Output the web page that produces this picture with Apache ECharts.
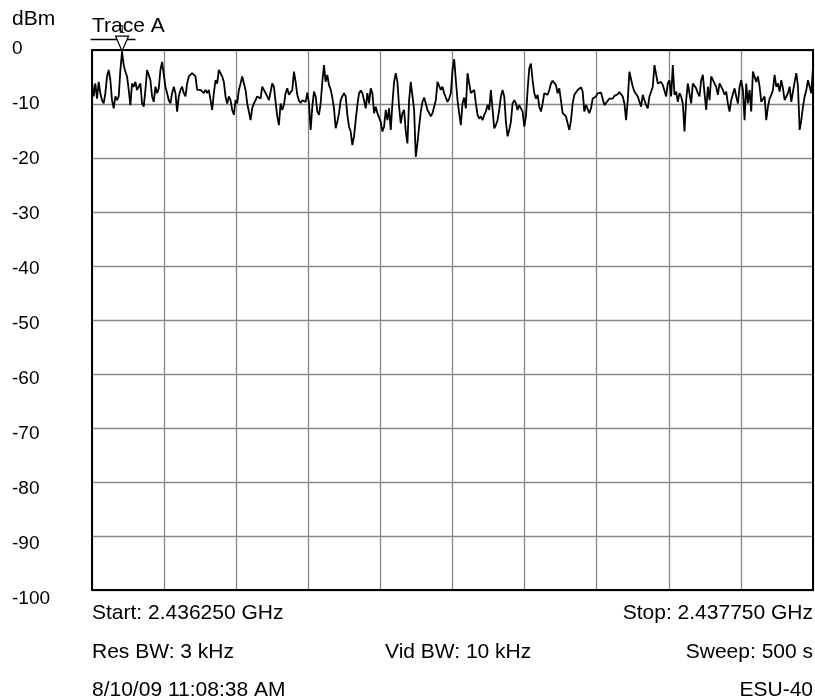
<!DOCTYPE html>
<html>
<head>
<meta charset="utf-8">
<script src="https://cdn.jsdelivr.net/npm/echarts@6/dist/echarts.min.js"></script>
<style>
html,body{margin:0;padding:0;background:#fff;}
#chart{width:815px;height:697px;}
</style>
</head>
<body>
<div id="chart"></div>
<script>
// ---- Data (dBm), uniformly spaced sweep points from Start to Stop ----
const levelsA = [-5.9,-8.6,-6.2,-9.0,-5.9,-8.0,-9.3,-9.9,-8.0,-4.9,-3.7,-5.6,-9.3,-10.8,-8.6,-9.3,-8.6,-3.7,-0.3,-2.8,
-4.0,-4.9,-7.4,-10.2,-6.2,-6.8,-5.9,-7.4,-6.8,-6.2,-9.9,-10.5,-7.4,-3.7,-4.6,-5.6,-8.6,-9.6,-6.8,-8.0,
-7.1,-3.7,-2.2,-2.5,-6.8,-8.0,-9.3,-9.9,-8.0,-6.8,-8.0,-11.4,-8.6,-7.4,-6.8,-8.0,-8.6,-6.2,-4.9,-4.6,
-4.3,-4.6,-4.9,-7.4,-7.7,-7.4,-7.7,-8.0,-7.4,-8.0,-7.4,-7.1,-11.1,-8.0,-5.6,-6.2,-3.7,-4.0,-4.9,-5.9,
-8.6,-9.9,-8.6,-9.3,-11.1,-12.0,-9.3,-9.9,-7.4,-6.2,-4.9,-4.6,-7.4,-9.9,-11.4,-13.0,-10.8,-9.9,-9.3,-8.6,
-8.3,-9.0,-6.8,-7.4,-8.0,-8.6,-9.3,-9.0];
const levelsB = [-6.2,-6.8,-9.6,-12.3,-13.9,-9.9,-11.1,-10.2,-8.0,-7.1,-8.3,-8.3,-7.4,-4.0,-5.9,-8.3,-9.4,-9.8,-9.3,-9.3,
-9.6,-7.9,-9.9,-14.8,-10.5,-7.7,-8.6,-11.4,-12.0,-9.9,-5.9,-2.8,-5.9,-4.6,-6.5,-7.3,-8.8,-10.8,-14.5,-13.3,
-11.7,-9.3,-8.6,-8.0,-8.6,-12.0,-14.2,-15.1,-17.6,-16.0,-13.0,-10.2,-8.0,-7.5,-8.0,-9.3,-10.8,-8.0,-9.9,-7.1,
-8.0,-11.7,-10.5,-11.7,-11.7,-13.3,-15.1,-14.2,-11.1,-13.0,-10.8,-14.8,-9.9,-5.9,-4.3,-5.9,-10.5,-13.6,-11.7,-11.1,
-15.1,-17.3,-9.3,-5.9,-6.2,-11.1,-19.8,-17.3,-14.2,-11.4,-9.6,-8.8,-9.9,-11.1,-11.4,-12.3,-11.7,-11.7,-9.3,-5.9,
-5.9,-7.4,-6.8,-8.0,-8.8,-9.6,-9.0,-8.0];
const levelsC = [-3.7,-1.7,-5.6,-9.3,-11.7,-13.9,-9.9,-8.8,-10.8,-4.3,-4.4,-8.0,-8.3,-7.4,-9.9,-12.0,-12.7,-12.3,-13.0,-12.0,
-11.4,-10.2,-11.1,-7.4,-7.1,-14.5,-13.9,-13.0,-11.1,-8.6,-7.4,-8.6,-13.3,-16.0,-14.8,-13.3,-9.9,-9.3,-9.9,-11.1,
-10.2,-9.9,-11.4,-14.2,-12.3,-7.4,-3.4,-2.5,-5.6,-8.0,-9.0,-8.3,-10.5,-11.4,-9.9,-8.0,-7.7,-8.3,-7.4,-6.2,
-5.7,-5.9,-6.5,-8.0,-7.1,-7.3,-11.7,-12.0,-12.3,-13.6,-14.8,-13.0,-9.9,-8.3,-8.5,-7.4,-7.3,-6.9,-7.7,-11.4,
-10.2,-10.2,-11.7,-10.8,-9.0,-9.3,-8.6,-8.0,-7.8,-7.9,-8.0,-10.2,-9.9,-9.4,-9.0,-8.8,-9.0,-8.5,-8.5,-8.2,
-7.8,-7.5,-8.6,-9.9,-13.0,-9.3,-4.0,-4.3];
const levelsD = [-6.8,-7.7,-7.7,-8.6,-8.3,-10.5,-8.3,-9.3,-10.2,-10.8,-8.6,-8.3,-6.8,-2.8,-2.8,-6.2,-6.2,-5.9,-6.5,-6.2,
-8.6,-6.2,-5.6,-8.6,-2.8,-8.3,-7.7,-9.6,-8.0,-8.6,-9.9,-15.1,-9.3,-6.2,-5.9,-9.9,-6.2,-6.2,-7.1,-8.0,
-8.6,-5.6,-4.6,-8.0,-11.1,-6.8,-9.3,-4.9,-4.9,-6.2,-6.8,-8.3,-6.2,-6.2,-7.4,-8.3,-7.7,-9.9,-11.4,-9.3,
-9.6,-7.1,-8.6,-9.9,-6.8,-5.6,-7.4,-13.0,-6.2,-9.9,-7.4,-11.4,-4.0,-3.7,-5.9,-4.9,-6.8,-9.6,-9.9,-8.6,
-13.0,-10.5,-9.0,-8.3,-7.4,-4.6,-6.8,-6.2,-7.7,-5.6,-7.1,-9.3,-9.6,-8.0,-6.8,-9.6,-7.7,-5.9,-4.3,-6.8,
-14.8,-13.0,-10.5,-8.6,-7.4,-5.6,-5.9,-8.0,-3.1];
const levels = levelsA.concat(levelsB, levelsC, levelsD);

const yTicks = [0,-10,-20,-30,-40,-50,-60,-70,-80,-90,-100];
const markerIndex = 18;
const texts = {
  unit: 'dBm',
  trace: 'Trace A',
  start: 'Start: 2.436250 GHz',
  stop: 'Stop: 2.437750 GHz',
  res: 'Res BW: 3 kHz',
  vid: 'Vid BW: 10 kHz',
  sweep: 'Sweep: 500 s',
  date: '8/10/09 11:08:38 AM',
  model: 'ESU-40'
};

const N = levels.length;
const seriesData = levels.map((v, i) => [i, v]);
const FONT = '"Liberation Sans", Arial, sans-serif';
const FS = 21;
const txt = (x, y, s, align) => ({
  type: 'text', left: align === 'right' ? undefined : x, right: align === 'right' ? x : undefined, top: y,
  style: { text: s, font: FS + 'px ' + FONT, fill: '#000' }
});

const chart = echarts.init(document.getElementById('chart'), null, { renderer: 'canvas' });
chart.setOption({
  animation: false,
  backgroundColor: '#fff',
  grid: [
    { left: 92, top: 50, width: 721, height: 540, show: true, borderColor: '#000', borderWidth: 2, backgroundColor: 'transparent', z: 3 },
    { left: 92, top: 49, width: 721, height: 550, show: false }
  ],
  xAxis: [
    { type: 'value', gridIndex: 0, min: 0, max: N - 1, interval: (N - 1) / 10,
      axisLine: { show: false }, axisTick: { show: false }, axisLabel: { show: false },
      splitLine: { show: true, lineStyle: { color: '#888888', width: 1.3 } } },
    { type: 'value', gridIndex: 1, min: 0, max: 1, show: false }
  ],
  yAxis: [
    { type: 'value', gridIndex: 0, min: -100, max: 0, interval: 10,
      axisLine: { show: false }, axisTick: { show: false }, axisLabel: { show: false },
      splitLine: { show: true, lineStyle: { color: '#888888', width: 1.3 } } },
    { type: 'value', gridIndex: 1, min: -100, max: 0, interval: 10,
      axisLine: { show: false }, axisTick: { show: false }, splitLine: { show: false },
      axisLabel: { show: true, align: 'left', margin: 80, color: '#000', fontSize: 19, fontFamily: FONT,
        formatter: v => yTicks.indexOf(v) >= 0 ? String(v) : '' } }
  ],
  series: [{
    type: 'line',
    xAxisIndex: 0, yAxisIndex: 0,
    data: seriesData,
    symbol: 'none',
    lineStyle: { color: '#000', width: 1.8 },
    z: 5,
    markPoint: {
      silent: true,
      data: [
        { coord: [markerIndex, levels[markerIndex]], symbol: 'rect', symbolSize: [45, 1.5],
          symbolOffset: [-9, -12], itemStyle: { color: '#000' }, label: { show: false } },
        { coord: [markerIndex, levels[markerIndex]], symbol: 'triangle', symbolRotate: 180, symbolSize: [13, 15],
          symbolOffset: [0, -8], itemStyle: { color: '#fff', borderColor: '#000', borderWidth: 1.2 },
          label: { show: true, position: 'top', distance: 0, formatter: '1', fontSize: 11, color: '#000', fontFamily: FONT } }
      ]
    }
  }],
  graphic: [
    txt(12, 9, texts.unit),
    txt(92, 16, texts.trace),
    txt(92, 603, texts.start),
    txt(2, 603, texts.stop, 'right'),
    txt(92, 642, texts.res),
    { type: 'text', left: 385, top: 642, style: { text: texts.vid, font: FS + 'px ' + FONT, fill: '#000' } },
    txt(2, 642, texts.sweep, 'right'),
    txt(92, 680, texts.date),
    txt(2, 680, texts.model, 'right')
  ]
});
</script>
</body>
</html>
